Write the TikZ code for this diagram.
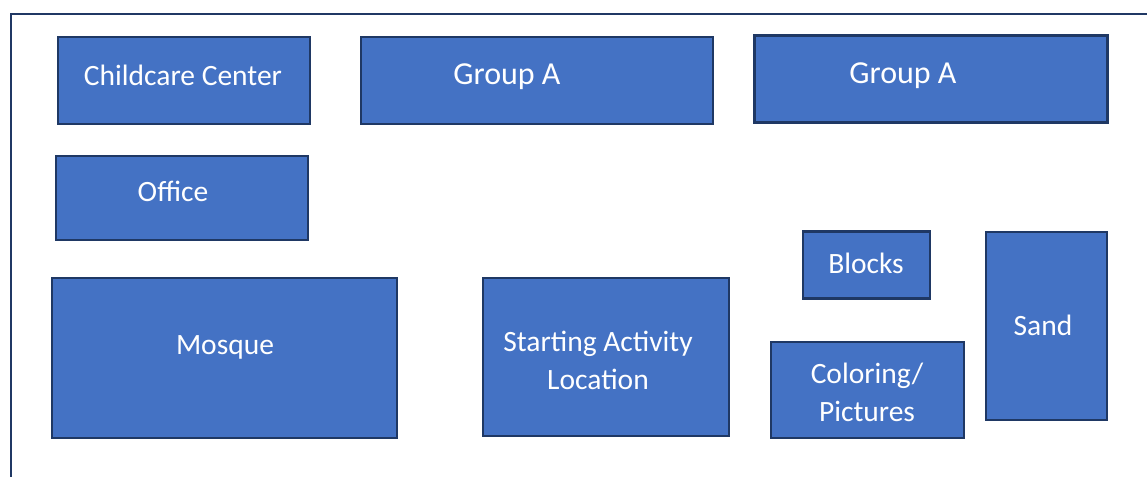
\documentclass[tikz,border=0pt]{standalone}
\usepackage{fontspec}
\setmainfont{Carlito}
\definecolor{boxfill}{HTML}{4472C4}
\definecolor{boxline}{HTML}{1F3864}
\definecolor{frameline}{HTML}{203864}
\begin{document}
\begin{tikzpicture}[x=1pt,y=-1pt,
  zone/.style={draw=boxline, line width=2.4pt, fill=boxfill, text=white,
    inner sep=0pt, align=center},
  tag/.style={text=white, inner sep=0pt, font=\fontsize{29.5}{38}\selectfont, align=center},
  bigtag/.style={tag, font=\fontsize{32}{38}\selectfont}]
\useasboundingbox (0,0) rectangle (1147,476);
\clip (0,0) rectangle (1147,476);
% outer frame of the site plan
\draw[frameline, line width=2.2pt] (11,14) rectangle (1170,500);

% rooms and activity areas
\node[zone, minimum width=252pt, minimum height=87pt] (child) at (184,80.5) {};
\node[tag] (childT) at (183,75) {Childcare Center};

\node[zone, minimum width=352pt, minimum height=87pt] (groupA) at (537,80.5) {};
\node[bigtag] (groupAT) at (507,77) {Group A};

\node[zone, minimum width=353pt, minimum height=87pt] (groupB) at (931,79) {};
\node[bigtag] (groupBT) at (903,76) {Group A};

\node[zone, minimum width=252pt, minimum height=84pt] (office) at (182,198) {};
\node[tag] (officeT) at (173,191) {Office};

\node[zone, minimum width=345pt, minimum height=160pt] (mosque) at (224.5,358) {};
\node[tag] (mosqueT) at (225,347) {Mosque};

\node[zone, minimum width=246pt, minimum height=158pt] (start) at (606,357) {};
\node[tag] (startT) at (598,360) {Starting Activity\\Location};

\node[zone, minimum width=127pt, minimum height=67pt] (blocks) at (866.5,265) {};
\node[tag] (blocksT) at (866,263) {Blocks};

\node[zone, minimum width=193pt, minimum height=96pt] (color) at (867.5,390) {};
\node[tag] (colorT) at (867,392) {Coloring/\\Pictures};

\node[zone, minimum width=121pt, minimum height=188pt] (sand) at (1046.5,326) {};
\node[tag] (sandT) at (1043,325) {Sand};
\end{tikzpicture}
\end{document}
